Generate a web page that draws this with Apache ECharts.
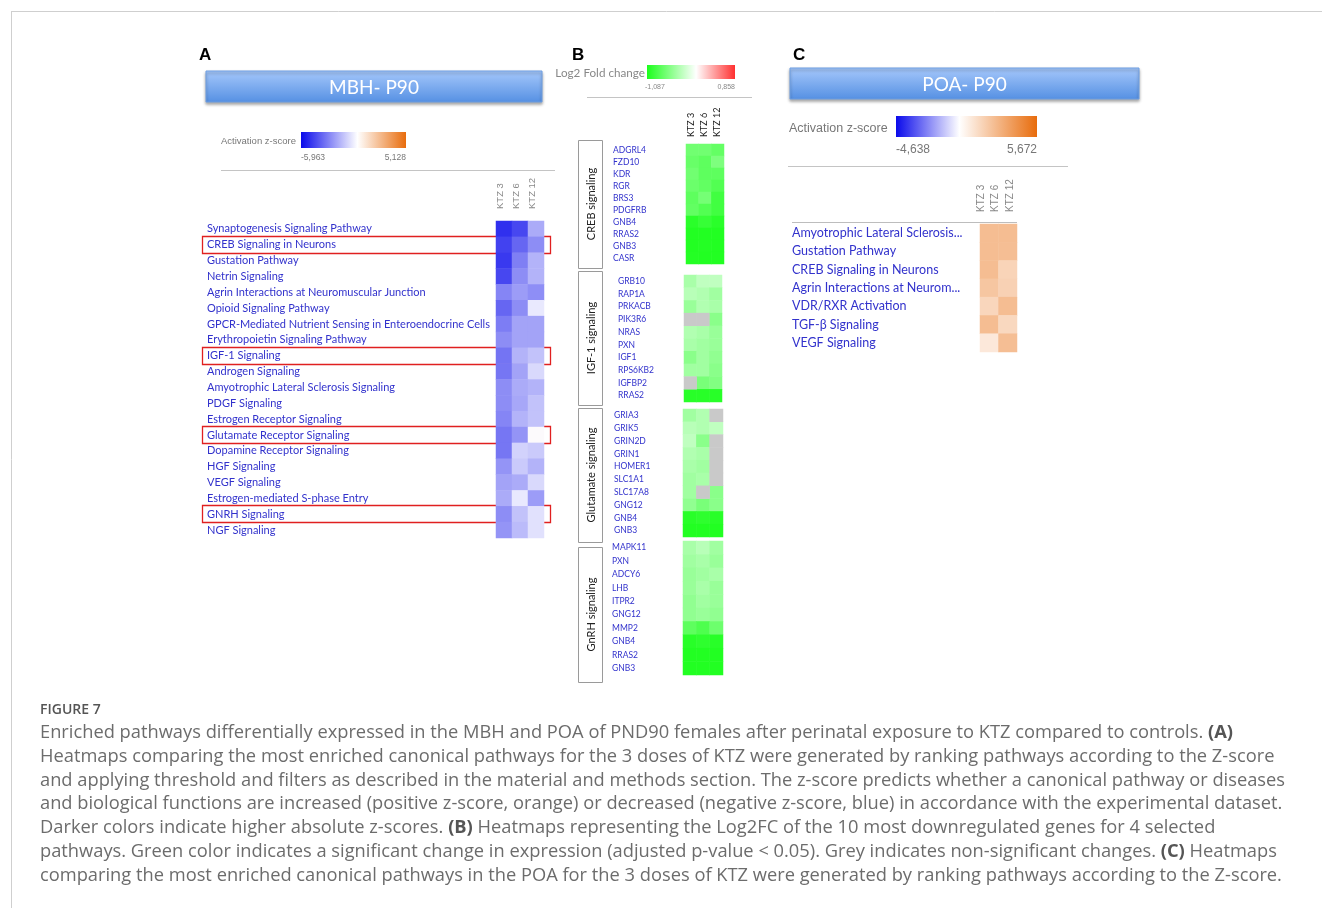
<!DOCTYPE html>
<html>
<head>
<meta charset="utf-8">
<script src="https://cdn.jsdelivr.net/npm/echarts@6/dist/echarts.min.js"></script>
<style>
  html, body { margin: 0; padding: 0; background: #ffffff; }
  #main { width: 1322px; height: 908px; }
</style>
</head>
<body>
<div id="main"></div>
<script>
// ---------------- data ----------------
const doses = ['KTZ 3', 'KTZ 6', 'KTZ 12'];

// (A) MBH – activation z-scores (KTZ 3, KTZ 6, KTZ 12)
const mbhRange = [-5.963, 5.128];
const mbhPathways = [
  'Synaptogenesis Signaling Pathway',
  'CREB Signaling in Neurons',
  'Gustation Pathway',
  'Netrin Signaling',
  'Agrin Interactions at Neuromuscular Junction',
  'Opioid Signaling Pathway',
  'GPCR-Mediated Nutrient Sensing in Enteroendocrine Cells',
  'Erythropoietin Signaling Pathway',
  'IGF-1 Signaling',
  'Androgen Signaling',
  'Amyotrophic Lateral Sclerosis Signaling',
  'PDGF Signaling',
  'Estrogen Receptor Signaling',
  'Glutamate Receptor Signaling',
  'Dopamine Receptor Signaling',
  'HGF Signaling',
  'VEGF Signaling',
  'Estrogen-mediated S-phase Entry',
  'GNRH Signaling',
  'NGF Signaling'
];
const mbhZ = [
  [-5.03, -4.47, -2.03],
  [-4.61, -3.72, -2.78],
  [-4.84, -3.11, -1.85],
  [-4.47, -2.78, -1.85],
  [-2.97, -2.41, -2.74],
  [-3.72, -2.78, -0.54],
  [-3.16, -2.22, -2.22],
  [-2.78, -2.22, -2.22],
  [-3.39, -1.85, -1.47],
  [-3.34, -2.22, -0.91],
  [-2.78, -2.03, -1.85],
  [-2.78, -2.13, -1.47],
  [-2.97, -1.85, -1.47],
  [-3.34, -2.60, 0.00],
  [-3.34, -1.10, -1.29],
  [-2.60, -1.29, -1.85],
  [-2.22, -2.03, -0.91],
  [-2.03, -0.54, -2.41],
  [-2.78, -1.47, -0.72],
  [-2.60, -1.66, -0.72]
];
const mbhHighlighted = [
  'CREB Signaling in Neurons',
  'IGF-1 Signaling',
  'Glutamate Receptor Signaling',
  'GNRH Signaling'
];

// (B) Log2 fold change of the most downregulated genes (null = not significant)
const fcRange = [-1.087, 0.858];
const geneGroups = ['CREB signaling', 'IGF-1 signaling', 'Glutamate signaling', 'GnRH signaling'];
const crebGenes = ['ADGRL4', 'FZD10', 'KDR', 'RGR', 'BRS3', 'PDGFRB', 'GNB4', 'RRAS2', 'GNB3', 'CASR'];
const crebFC = [
  [-0.68, -0.68, -0.74],
  [-0.72, -0.77, -0.62],
  [-0.68, -0.77, -0.77],
  [-0.71, -0.75, -0.83],
  [-0.77, -0.66, -0.91],
  [-0.75, -0.83, -0.91],
  [-1.02, -0.96, -1.02],
  [-1.06, -1.06, -1.06],
  [-1.06, -1.05, -1.06],
  [-1.05, -1.06, -1.06]
];
const igf1Genes = ['GRB10', 'RAP1A', 'PRKACB', 'PIK3R6', 'NRAS', 'PXN', 'IGF1', 'RPS6KB2', 'IGFBP2', 'RRAS2'];
const igf1FC = [
  [-0.41, -0.30, -0.30],
  [-0.34, -0.37, -0.45],
  [-0.49, -0.37, -0.41],
  [null, null, -0.56],
  [-0.37, -0.41, -0.49],
  [-0.41, -0.45, -0.49],
  [-0.56, -0.45, -0.53],
  [-0.45, -0.45, -0.56],
  [null, -0.64, -0.60],
  [-1.03, -1.03, -1.03]
];
const glutGenes = ['GRIA3', 'GRIK5', 'GRIN2D', 'GRIN1', 'HOMER1', 'SLC1A1', 'SLC17A8', 'GNG12', 'GNB4', 'GNB3'];
const glutFC = [
  [-0.45, -0.37, null],
  [-0.34, -0.37, -0.30],
  [-0.30, -0.56, null],
  [-0.37, -0.41, null],
  [-0.41, -0.45, null],
  [-0.45, -0.41, null],
  [-0.45, null, -0.56],
  [-0.53, -0.64, -0.56],
  [-1.03, -1.00, -1.03],
  [-1.06, -1.06, -1.06]
];
const gnrhGenes = ['MAPK11', 'PXN', 'ADCY6', 'LHB', 'ITPR2', 'GNG12', 'MMP2', 'GNB4', 'RRAS2', 'GNB3'];
const gnrhFC = [
  [-0.41, -0.34, -0.45],
  [-0.45, -0.41, -0.49],
  [-0.49, -0.45, -0.41],
  [-0.49, -0.41, -0.49],
  [-0.53, -0.45, -0.49],
  [-0.53, -0.49, -0.53],
  [-0.77, -0.85, -0.70],
  [-1.03, -1.00, -1.03],
  [-1.06, -1.06, -1.06],
  [-1.06, -1.06, -1.06]
];

// (C) POA – activation z-scores
const poaRange = [-4.638, 5.672];
const poaColumns = ['KTZ 6', 'KTZ 12'];
const poaPathways = [
  'Amyotrophic Lateral Sclerosis...',
  'Gustation Pathway',
  'CREB Signaling in Neurons',
  'Agrin Interactions at Neurom...',
  'VDR/RXR Activation',
  'TGF-\u03b2 Signaling',
  'VEGF Signaling'
];
const poaZ = [
  [2.56, 2.56],
  [2.56, 2.50],
  [2.56, 1.67],
  [2.20, 1.76],
  [1.58, 2.56],
  [2.56, 1.50],
  [0.87, 2.50]
];

const captionLines = [
  'Enriched pathways differentially expressed in the MBH and POA of PND90 females after perinatal exposure to KTZ compared to controls. {b|(A)}',
  'Heatmaps comparing the most enriched canonical pathways for the 3 doses of KTZ were generated by ranking pathways according to the Z-score',
  'and applying threshold and filters as described in the material and methods section. The z-score predicts whether a canonical pathway or diseases',
  'and biological functions are increased (positive z-score, orange) or decreased (negative z-score, blue) in accordance with the experimental dataset.',
  'Darker colors indicate higher absolute z-scores. {b|(B)} Heatmaps representing the Log2FC of the 10 most downregulated genes for 4 selected',
  'pathways. Green color indicates a significant change in expression (adjusted p-value < 0.05). Grey indicates non-significant changes. {b|(C)} Heatmaps',
  'comparing the most enriched canonical pathways in the POA for the 3 doses of KTZ were generated by ranking pathways according to the Z-score.'
];

// ---------------- styling ----------------
const CAL = 'Lato, "Open Sans", sans-serif';
const ARIAL = '"Liberation Sans", Arial, sans-serif';
const BODY = '"Open Sans", "Noto Sans", sans-serif';
const LINK_BLUE = '#3232cc';
const Z_NEG = '#0a0aeb', Z_POS = '#e86c0c';
const FC_NEG = '#1cff1c', FC_POS = '#ff3030';
const NS_GREY = '#c9c9c9';

function hexToRgb(h) { const n = parseInt(h.slice(1), 16); return [(n >> 16) & 255, (n >> 8) & 255, n & 255]; }
function mix(a, b, t) {
  const A = hexToRgb(a), B = hexToRgb(b);
  return 'rgb(' + A.map((v, i) => Math.round(v + (B[i] - v) * t)).join(',') + ')';
}
// diverging ramp: neg colour at min, white at 0, pos colour at max
function divergingRamp(min, max, neg, pos, n) {
  const out = [];
  for (let i = 0; i < n; i++) {
    const v = min + (max - min) * i / (n - 1);
    out.push(v < 0 ? mix('#ffffff', neg, v / min) : mix('#ffffff', pos, v / max));
  }
  return out;
}
function cells(matrix) {
  const out = [];
  matrix.forEach((row, r) => row.forEach((v, c) => { if (v !== null) out.push([c, r, v]); }));
  return out;
}
function greyCells(matrix) {
  const out = [];
  matrix.forEach((row, r) => row.forEach((v, c) => { if (v === null) out.push([c, r, 0]); }));
  return out;
}

// ---------------- layout ----------------
const gA = { left: 496, top: 221, width: 48, height: 317 };
const gB = [
  { left: 686, top: 144, width: 38, height: 120, labelX: 613 },
  { left: 684, top: 275, width: 38, height: 127, labelX: 618 },
  { left: 683, top: 409, width: 40, height: 128, labelX: 614 },
  { left: 683, top: 541, width: 40, height: 134, labelX: 612 }
];
const gC = { left: 980, top: 224, width: 37, height: 128 };
const bBoxes = [[140, 268], [271, 405], [408, 542], [547, 682]];

const bGenes = [crebGenes, igf1Genes, glutGenes, gnrhGenes];
const bFC = [crebFC, igf1FC, glutFC, gnrhFC];

const grids = [], xAxes = [], yAxes = [], series = [];
function catY(gi, data, margin, size, family) {
  return {
    gridIndex: gi, type: 'category', data: data, inverse: true,
    axisLine: { show: false }, axisTick: { show: false }, splitLine: { show: false },
    axisLabel: { interval: 0, align: 'left', margin: margin, color: LINK_BLUE, fontSize: size, fontFamily: family }
  };
}
function catX(gi, data) {
  return { gridIndex: gi, type: 'category', data: data, show: false };
}
function heat(gi, data, extra) {
  return Object.assign({
    type: 'heatmap', xAxisIndex: gi, yAxisIndex: gi, data: data,
    emphasis: { disabled: true }, animation: false, itemStyle: { borderWidth: 0 }
  }, extra || {});
}

// grid 0: panel A
grids.push({ left: gA.left, top: gA.top, width: gA.width, height: gA.height });
xAxes.push(catX(0, doses));
yAxes.push(catY(0, mbhPathways, gA.left - 207, 11, CAL));
series.push(heat(0, cells(mbhZ)));

// grids 1-4: panel B
gB.forEach((g, i) => {
  grids.push({ left: g.left, top: g.top, width: g.width, height: g.height });
  xAxes.push(catX(i + 1, doses));
  yAxes.push(catY(i + 1, bGenes[i], g.left - g.labelX, 8.5, CAL));
});
gB.forEach((g, i) => series.push(heat(i + 1, cells(bFC[i]))));
gB.forEach((g, i) => series.push(heat(i + 1, greyCells(bFC[i]), { itemStyle: { color: NS_GREY, borderWidth: 0 } })));

// grid 5: panel C
grids.push({ left: gC.left, top: gC.top, width: gC.width, height: gC.height });
xAxes.push(catX(5, poaColumns));
yAxes.push(catY(5, poaPathways, gC.left - 792, 12.5, CAL));
series.push(heat(5, cells(poaZ)));

const option = {
  backgroundColor: '#ffffff',
  animation: false,
  grid: grids,
  xAxis: xAxes,
  yAxis: yAxes,
  visualMap: [
    { type: 'continuous', show: false, seriesIndex: 0, dimension: 2, min: mbhRange[0], max: mbhRange[1],
      inRange: { color: divergingRamp(mbhRange[0], mbhRange[1], Z_NEG, Z_POS, 41) } },
    { type: 'continuous', show: false, seriesIndex: [1, 2, 3, 4], dimension: 2, min: fcRange[0], max: fcRange[1],
      inRange: { color: divergingRamp(fcRange[0], fcRange[1], FC_NEG, FC_POS, 41) } },
    { type: 'continuous', show: false, seriesIndex: 9, dimension: 2, min: poaRange[0], max: poaRange[1],
      inRange: { color: divergingRamp(poaRange[0], poaRange[1], Z_NEG, Z_POS, 41) } }
  ],
  series: series
};

const chart = echarts.init(document.getElementById('main'), null, { renderer: 'canvas' });
chart.setOption(option);

// ---------------- annotations ----------------
const els = [];
function line(x1, y1, x2, y2, color, w) {
  els.push({ type: 'line', shape: { x1, y1, x2, y2 }, style: { stroke: color, lineWidth: w || 1 }, silent: true });
}
function text(x, y, str, st, rot) {
  els.push({ type: 'text', x, y, rotation: rot || 0, silent: true,
    style: Object.assign({ text: str, textAlign: 'left', textVerticalAlign: 'middle' }, st) });
}
function colorbar(x, y, w, h, range, neg, pos) {
  const z0 = -range[0] / (range[1] - range[0]);
  els.push({ type: 'rect', shape: { x, y, width: w, height: h }, silent: true,
    style: { fill: { type: 'linear', x: 0, y: 0, x2: 1, y2: 0,
      colorStops: [{ offset: 0, color: neg }, { offset: z0, color: '#ffffff' }, { offset: 1, color: pos }] } } });
}
function header(x, y, w, h, label) {
  els.push({ type: 'rect', shape: { x, y, width: w, height: h }, silent: true,
    style: { fill: { type: 'linear', x: 0, y: 0, x2: 0, y2: 1,
      colorStops: [{ offset: 0, color: '#a6c8fb' }, { offset: 1, color: '#5590e3' }] },
      stroke: '#6f9fe3', lineWidth: 1, shadowBlur: 3, shadowOffsetY: 2, shadowColor: 'rgba(0,0,0,0.35)' } });
  text(x + w / 2, y + h / 2 + 1, label, { textAlign: 'center', fill: '#ffffff', fontSize: 19, fontFamily: CAL });
}
const fmt = v => (v < 0 ? '-' : '') + Math.abs(v).toFixed(3).replace('.', ',');

// page frame
line(11, 11.5, 1322, 11.5, '#cfcfcf');
line(11.5, 11, 11.5, 908, '#cfcfcf');

// panel letters
[['A', 199], ['B', 572], ['C', 793]].forEach(([s, x]) =>
  text(x, 55, s, { fill: '#000', fontSize: 17, fontWeight: 'bold', fontFamily: ARIAL }));

// ----- panel A -----
header(206, 71, 336, 31, 'MBH- P90');
text(221, 141, 'Activation z-score', { fill: '#777', fontSize: 9.5, fontFamily: ARIAL });
colorbar(301, 132, 105, 16, mbhRange, Z_NEG, Z_POS);
text(301, 157.5, fmt(mbhRange[0]), { fill: '#777', fontSize: 8.5, fontFamily: ARIAL });
text(406, 157.5, fmt(mbhRange[1]), { fill: '#777', fontSize: 8.5, fontFamily: ARIAL, textAlign: 'right' });
line(221, 170.5, 555, 170.5, '#c4c4c4');
doses.forEach((d, i) => text(gA.left + gA.width / 3 * (i + 0.5) - 4, 209, d,
  { fill: '#888', fontSize: 9.5, fontFamily: ARIAL }, Math.PI / 2));
mbhHighlighted.forEach(name => {
  const p = chart.convertToPixel({ xAxisIndex: 0, yAxisIndex: 0 }, [0, mbhPathways.indexOf(name)]);
  els.push({ type: 'rect', silent: true, shape: { x: 202.5, y: Math.round(p[1]) - 8.5, width: 348, height: 17 },
    style: { fill: 'none', stroke: '#e02020', lineWidth: 1.3 } });
});

// ----- panel B -----
text(645, 73, 'Log2 Fold change', { fill: '#888', fontSize: 11.7, fontFamily: CAL, textAlign: 'right' });
colorbar(647, 65, 88, 14, fcRange, FC_NEG, FC_POS);
text(645, 87, fmt(fcRange[0]), { fill: '#888', fontSize: 7, fontFamily: ARIAL });
text(735, 87, fmt(fcRange[1]), { fill: '#888', fontSize: 7, fontFamily: ARIAL, textAlign: 'right' });
line(587, 97.5, 752, 97.5, '#c4c4c4');
doses.forEach((d, i) => text(gB[0].left + gB[0].width / 3 * (i + 0.5) - 1, 137, d,
  { fill: '#222', fontSize: 9, fontFamily: CAL }, Math.PI / 2));
bBoxes.forEach(([y1, y2], i) => {
  els.push({ type: 'rect', silent: true, shape: { x: 578.5, y: y1 + 0.5, width: 24, height: y2 - y1 },
    style: { fill: '#fff', stroke: '#9a9a9a', lineWidth: 1 } });
  text(591, (y1 + y2) / 2, geneGroups[i], { fill: '#222', fontSize: 11, fontFamily: CAL, textAlign: 'center' }, Math.PI / 2);
});

// ----- panel C -----
header(790, 68, 349, 31, 'POA- P90');
text(789, 128.5, 'Activation z-score', { fill: '#777', fontSize: 12.5, fontFamily: ARIAL });
colorbar(896, 116, 141, 21, poaRange, Z_NEG, Z_POS);
text(896, 149.5, fmt(poaRange[0]), { fill: '#777', fontSize: 12, fontFamily: ARIAL });
text(1037, 149.5, fmt(poaRange[1]), { fill: '#777', fontSize: 12, fontFamily: ARIAL, textAlign: 'right' });
line(788, 166.5, 1068, 166.5, '#c4c4c4');
line(792, 222.5, 1017, 222.5, '#bdbdbd');
doses.forEach((d, i) => text(gC.left + 1 + 14.5 * i, 212, d,
  { fill: '#888', fontSize: 10, fontFamily: ARIAL }, Math.PI / 2));

// ----- caption -----
text(40, 710, 'FIGURE 7', { fill: '#555', fontSize: 14, fontWeight: 600, fontFamily: BODY });
const capY = [733, 757, 780.5, 804, 828, 852, 876];
captionLines.forEach((s, i) => text(40, capY[i], s, {
  fill: '#6c6c6c', fontSize: 18.3, fontFamily: BODY,
  rich: { b: { fontWeight: 'bold', fill: '#555', fontSize: 18.3, fontFamily: BODY } }
}));

chart.setOption({ graphic: { elements: els } });
</script>
</body>
</html>
